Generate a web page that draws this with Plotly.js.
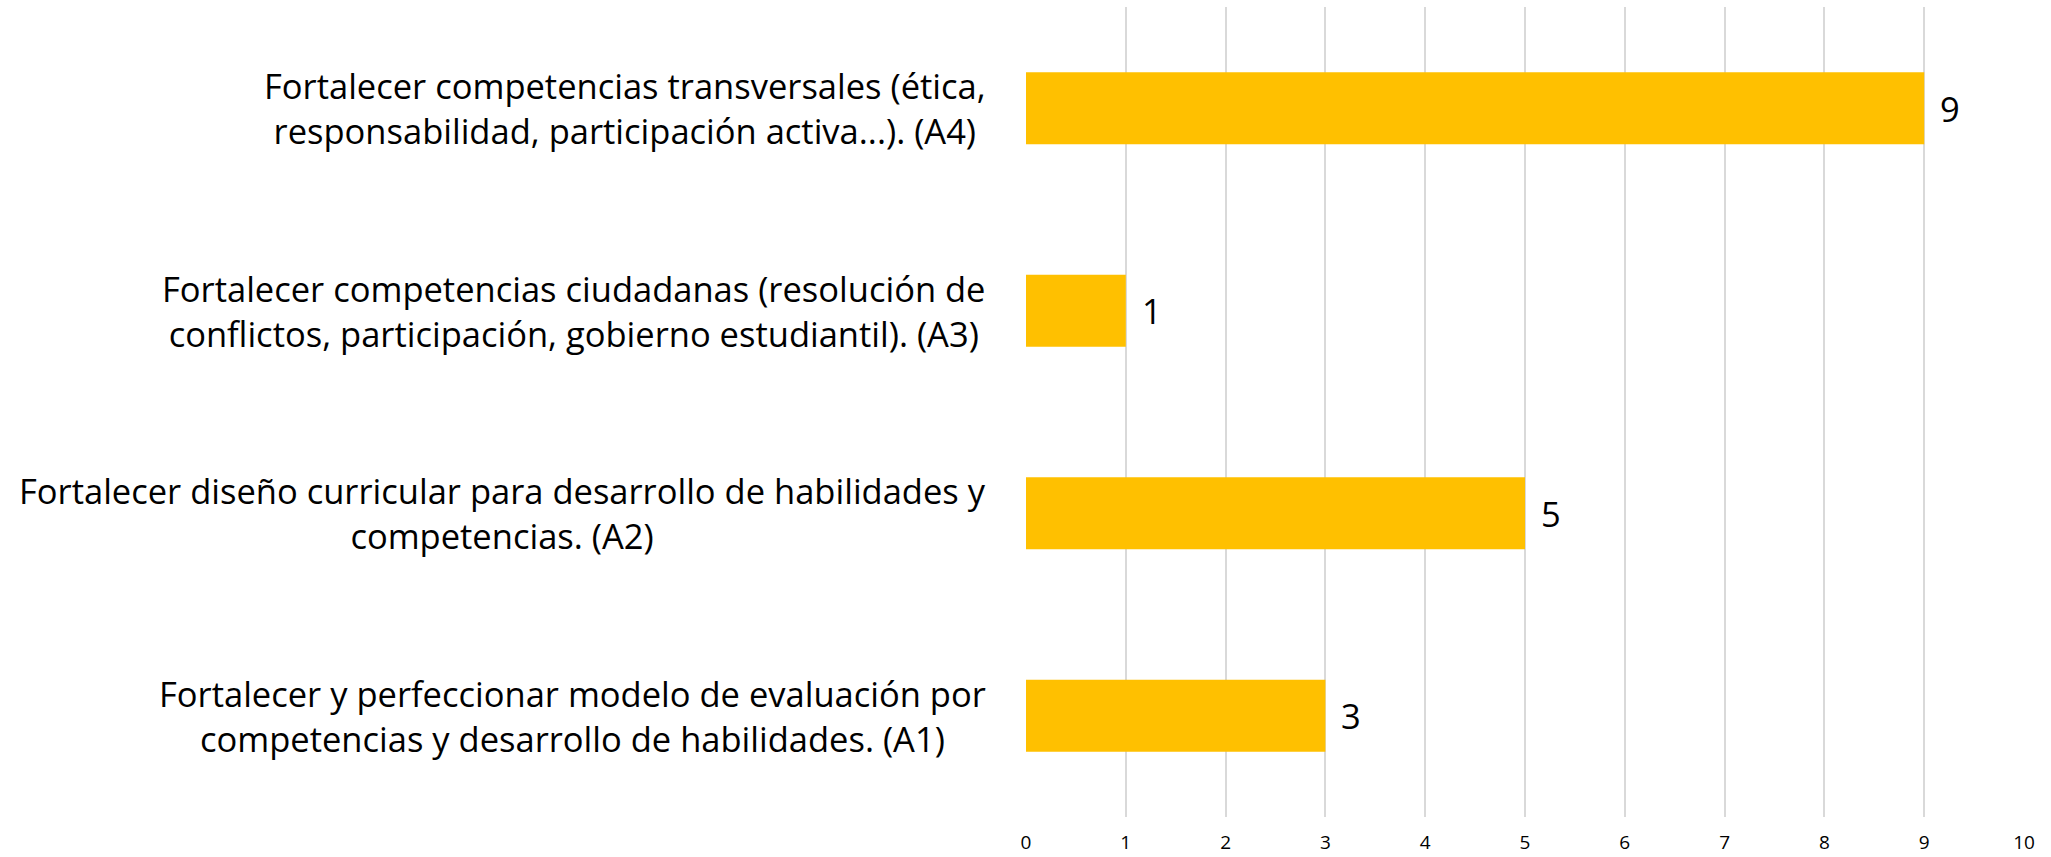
<!DOCTYPE html>
<html>
<head>
<meta charset="utf-8">
<script src="https://cdn.plot.ly/plotly-3.0.1.min.js"></script>
<style>html,body{margin:0;padding:0;background:#fff;}#chart{width:2051px;height:857px;}</style>
</head>
<body>
<div id="chart"></div>
<script>
const categories = [
  "Fortalecer y perfeccionar modelo de evaluación por<br>competencias y desarrollo de habilidades. (A1)",
  "Fortalecer diseño curricular para desarrollo de habilidades y<br>competencias. (A2)",
  "Fortalecer competencias ciudadanas (resolución de<br>conflictos, participación, gobierno estudiantil). (A3)",
  "Fortalecer competencias transversales (ética,<br>responsabilidad, participación activa...). (A4)"
];
const values = [3, 5, 1, 9];
const xTicks = [0,1,2,3,4,5,6,7,8,9,10];

const FONT = "'Open Sans', Lato, sans-serif";

const trace = {
  type: 'bar',
  orientation: 'h',
  x: values,
  y: categories,
  marker: {color: '#FFC000', line: {width: 0}},
  width: 0.355,
  hoverinfo: 'none'
};

const annotations = [];
categories.forEach((c, i) => {
  annotations.push({
    xref: 'paper', yref: 'y', x: 0, y: c,
    text: c, showarrow: false, xanchor: 'right', yanchor: 'middle',
    align: 'center', xshift: -38,
    font: {family: FONT, size: 34.5, color: '#000'}
  });
  annotations.push({
    xref: 'x', yref: 'y', x: values[i], y: c,
    text: String(values[i]), showarrow: false, xanchor: 'left', yanchor: 'middle',
    xshift: 14,
    font: {family: FONT, size: 34.5, color: '#000'}
  });
});

const layout = {
  width: 2051, height: 857,
  margin: {l: 1026, r: 27, t: 7, b: 39.5},
  paper_bgcolor: '#fff', plot_bgcolor: '#fff',
  showlegend: false,
  xaxis: {
    range: [0, 10], tickvals: xTicks, ticktext: xTicks.map(String),
    showgrid: true, gridcolor: '#d9d9d9', gridwidth: 2,
    zeroline: false, showline: false, ticks: '',
    ticklabelstandoff: 12,
    tickfont: {family: FONT, size: 19, color: '#000'},
    fixedrange: true
  },
  yaxis: {
    type: 'category', showticklabels: false, showgrid: false,
    zeroline: false, showline: false, ticks: '',
    range: [-0.5, 3.5], fixedrange: true
  },
  annotations: annotations,
  font: {family: FONT}
};

Plotly.newPlot('chart', [trace], layout, {displayModeBar: false, staticPlot: true});
</script>
</body>
</html>
